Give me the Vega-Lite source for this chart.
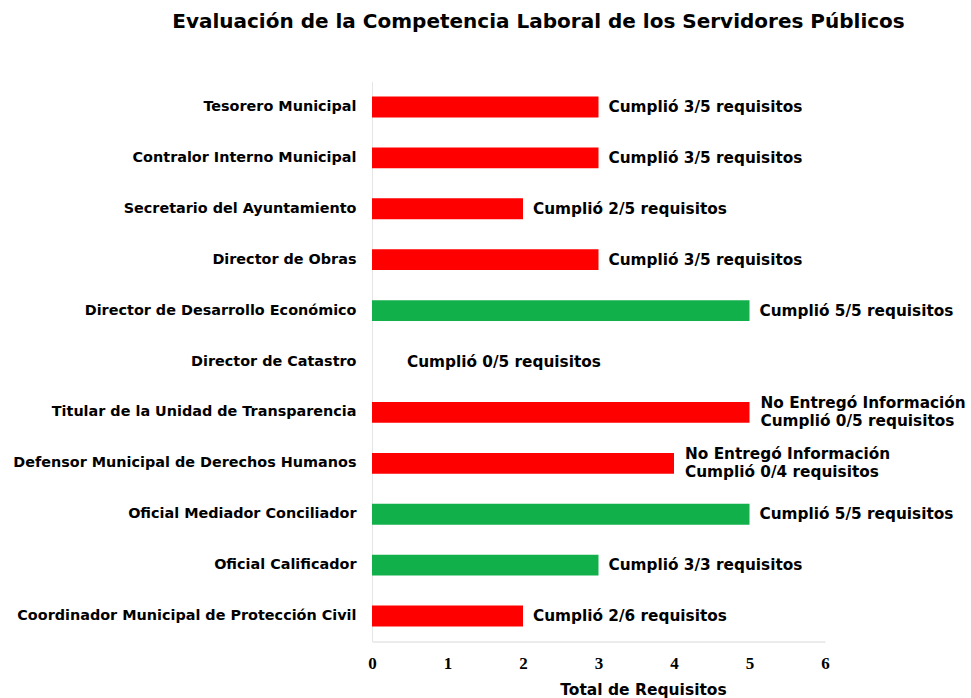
{
  "$schema": "https://vega.github.io/schema/vega-lite/v6.json",
  "width": 453,
  "height": 560,
  "autosize": "none",
  "padding": {"left": 372, "top": 81.5, "right": 146, "bottom": 56.5},
  "background": "white",
  "view": {"stroke": null},
  "title": {
    "text": "Evaluación de la Competencia Laboral de los Servidores Públicos",
    "font": "DejaVu Sans",
    "fontSize": 20,
    "fontWeight": "bold",
    "color": "#000000",
    "anchor": "middle",
    "baseline": "alphabetic",
    "offset": 34,
    "dx": -60
  },
  "data": {
    "values": [
      {"cargo": "Tesorero Municipal", "requisitos": 3, "estado": "rojo", "label": "Cumplió 3/5 requisitos", "grupo": "normal"},
      {"cargo": "Contralor Interno Municipal", "requisitos": 3, "estado": "rojo", "label": "Cumplió 3/5 requisitos", "grupo": "normal"},
      {"cargo": "Secretario del Ayuntamiento", "requisitos": 2, "estado": "rojo", "label": "Cumplió 2/5 requisitos", "grupo": "normal"},
      {"cargo": "Director de Obras", "requisitos": 3, "estado": "rojo", "label": "Cumplió 3/5 requisitos", "grupo": "normal"},
      {"cargo": "Director de Desarrollo Económico", "requisitos": 5, "estado": "verde", "label": "Cumplió 5/5 requisitos", "grupo": "normal"},
      {"cargo": "Director de Catastro", "requisitos": 0, "estado": "rojo", "label": "Cumplió 0/5 requisitos", "grupo": "cero"},
      {"cargo": "Titular de la Unidad de Transparencia", "requisitos": 5, "estado": "rojo", "label": "No Entregó Información\nCumplió 0/5 requisitos", "grupo": "doble"},
      {"cargo": "Defensor Municipal de Derechos Humanos", "requisitos": 4, "estado": "rojo", "label": "No Entregó Información\nCumplió 0/4 requisitos", "grupo": "doble"},
      {"cargo": "Oficial Mediador Conciliador ", "requisitos": 5, "estado": "verde", "label": "Cumplió 5/5 requisitos", "grupo": "normal"},
      {"cargo": "Oficial Calificador ", "requisitos": 3, "estado": "verde", "label": "Cumplió 3/3 requisitos", "grupo": "normal"},
      {"cargo": "Coordinador Municipal de Protección Civil", "requisitos": 2, "estado": "rojo", "label": "Cumplió 2/6 requisitos", "grupo": "normal"}
    ]
  },
  "encoding": {
    "y": {
      "field": "cargo",
      "type": "nominal",
      "sort": null,
      "scale": {"paddingInner": 0.59, "paddingOuter": 0.295},
      "axis": {
        "title": null,
        "ticks": false,
        "labelPadding": 16,
        "labelFont": "DejaVu Sans",
        "labelFontSize": 14.4,
        "labelFontWeight": "bold",
        "labelColor": "#000000",
        "labelLimit": 400,
        "domainColor": "#e6e6e6",
        "grid": false
      }
    },
    "x": {
      "field": "requisitos",
      "type": "quantitative",
      "scale": {"domain": [0, 6], "nice": false},
      "axis": {
        "title": "Total de Requisitos",
        "values": [0, 1, 2, 3, 4, 5, 6],
        "format": "d",
        "grid": false,
        "ticks": false,
        "labelFlush": false,
        "domainColor": "#d9d9d9",
        "labelFont": "Liberation Serif",
        "labelFontSize": 17,
        "labelFontWeight": "bold",
        "labelColor": "#000000",
        "labelBaseline": "alphabetic",
        "labelPadding": 27,
        "titleFont": "DejaVu Sans",
        "titleFontSize": 15.5,
        "titleFontWeight": "bold",
        "titleColor": "#000000",
        "titleBaseline": "alphabetic",
        "titleX": 271,
        "titleY": 53
      }
    }
  },
  "layer": [
    {
      "mark": {"type": "bar"},
      "encoding": {
        "color": {
          "field": "estado",
          "type": "nominal",
          "scale": {"domain": ["rojo", "verde"], "range": ["#FF0000", "#12B04A"]},
          "legend": null
        }
      }
    },
    {
      "transform": [{"filter": "datum.grupo === 'normal'"}],
      "mark": {
        "type": "text",
        "align": "left",
        "baseline": "middle",
        "dx": 10,
        "font": "DejaVu Sans",
        "fontSize": 15.3,
        "fontWeight": "bold",
        "color": "#000000"
      },
      "encoding": {"text": {"field": "label", "type": "nominal"}}
    },
    {
      "transform": [{"filter": "datum.grupo === 'doble'"}],
      "mark": {
        "type": "text",
        "align": "left",
        "baseline": "middle",
        "dx": 11,
        "dy": -9,
        "font": "DejaVu Sans",
        "fontSize": 15.3,
        "fontWeight": "bold",
        "color": "#000000",
        "lineBreak": "\n",
        "lineHeight": 18
      },
      "encoding": {"text": {"field": "label", "type": "nominal"}}
    },
    {
      "transform": [{"filter": "datum.grupo === 'cero'"}],
      "mark": {
        "type": "text",
        "align": "left",
        "baseline": "middle",
        "dx": 35,
        "font": "DejaVu Sans",
        "fontSize": 15.3,
        "fontWeight": "bold",
        "color": "#000000"
      },
      "encoding": {"text": {"field": "label", "type": "nominal"}}
    }
  ]
}
